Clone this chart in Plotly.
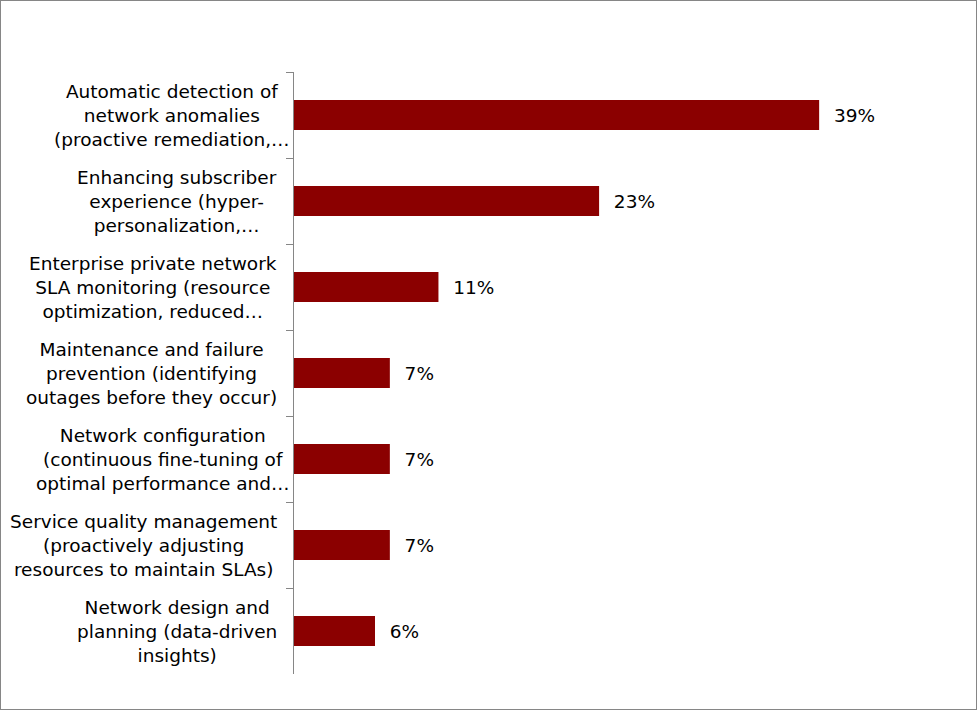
import plotly.graph_objects as go

# Survey data (share of respondents, %)
categories = [
    "Automatic detection of<br>network anomalies<br>(proactive remediation,…",
    "Enhancing subscriber<br>experience (hyper-<br>personalization,…",
    "Enterprise private network<br>SLA monitoring (resource<br>optimization, reduced…",
    "Maintenance and failure<br>prevention (identifying<br>outages before they occur)",
    "Network configuration<br>(continuous fine-tuning of<br>optimal performance and…",
    "Service quality management<br>(proactively adjusting<br>resources to maintain SLAs)",
    "Network design and<br>planning (data-driven<br>insights)",
]
values = [38.9, 22.6, 10.7, 7.1, 7.1, 7.1, 6.0]
value_labels = ["39%", "23%", "11%", "7%", "7%", "7%", "6%"]

W, H = 977, 710
margin = dict(l=294, r=35, t=72, b=36)
axis_grey = "#868686"
font = dict(family="DejaVu Sans, Verdana, sans-serif", size=18.5, color="black")

fig = go.Figure()
fig.add_trace(go.Bar(
    x=values,
    y=categories,
    orientation="h",
    marker=dict(color="#8B0000", line=dict(width=0)),
    text=["\u00a0\u00a0" + s for s in value_labels],
    textposition="outside",
    textfont=font,
    cliponaxis=False,
    hoverinfo="skip",
))

# category labels, centred lines in a right-aligned block
# (a truncated last line spills past the block, like in the original)
for c in categories:
    lines = c.split("<br>")
    longest_truncated = lines[-1].endswith("…") and len(lines[-1]) >= max(len(s) for s in lines) - 2
    fig.add_annotation(
        x=0, xref="paper", y=c, yref="y",
        text=c, showarrow=False,
        xanchor="right", align="center",
        xshift=-2 if longest_truncated else -15, font=font,
    )

pw = W - margin["l"] - margin["r"]
ph = H - margin["t"] - margin["b"]
# border round the whole chart
fig.add_shape(
    type="rect", xref="paper", yref="paper",
    x0=-margin["l"] / pw, x1=1 + margin["r"] / pw,
    y0=-margin["b"] / ph, y1=1 + margin["t"] / ph,
    line=dict(color=axis_grey, width=2),
)

fig.update_xaxes(range=[0, 48], visible=False, showgrid=False)
fig.update_yaxes(
    autorange="reversed",
    showticklabels=False,
    showline=True, linecolor=axis_grey, linewidth=1,
    ticks="outside", tickson="boundaries", ticklen=7, tickcolor=axis_grey,
    showgrid=False, zeroline=False,
)
fig.update_layout(
    width=W, height=H,
    margin=margin,
    bargap=0.65,
    showlegend=False,
    plot_bgcolor="white", paper_bgcolor="white",
    font=font,
)

# drop the browser's default page margin so the chart sits at the top-left
fig.write_html(
    "out.html",
    config={"displayModeBar": False},
    post_script="document.body.style.margin='0';",
)
